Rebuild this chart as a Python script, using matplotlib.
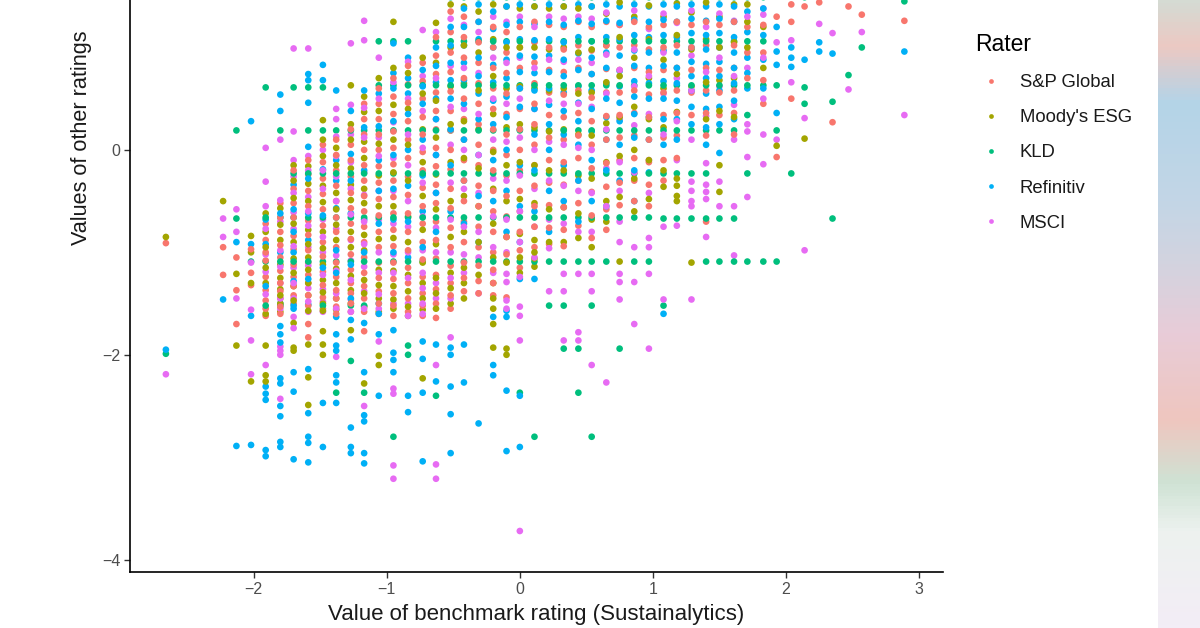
import numpy as np
import matplotlib
matplotlib.use('Agg')
import matplotlib.pyplot as plt
from matplotlib.lines import Line2D
from matplotlib.colors import LinearSegmentedColormap

plt.rcParams['font.family'] = ['Liberation Sans', 'DejaVu Sans']

# benchmark (Sustainalytics) value of each column of points
bench_cols = [-2.66, -2.23, -2.13, -2.02, -1.91, -1.80, -1.70, -1.59, -1.48, -1.38,
              -1.27, -1.17, -1.06, -0.95, -0.84, -0.73, -0.63, -0.52, -0.42, -0.31,
              -0.20, -0.10, 0.00, 0.11, 0.22, 0.33, 0.44, 0.54, 0.65, 0.75,
              0.86, 0.97, 1.08, 1.18, 1.29, 1.40, 1.50, 1.61, 1.71, 1.83,
              1.93, 2.04, 2.14, 2.25, 2.35, 2.47, 2.57, 2.89]

# other ratings per column, one list per rater
sp_global = [
    [-0.91], [-0.95, -1.22], [-1.37, -1.7, -1.05], [-1.2, -1.32, -0.97],
    [-0.72, -0.88, -1.0, -1.08, -1.24, -1.37, -1.47, -1.55, -1.62],
    [-0.52, -0.66, -0.8, -0.93, -1.05, -1.18, -1.3, -1.38, -1.45, -1.53, -1.6],
    [-0.2, -0.38, -0.52, -0.66, -0.84, -0.97, -1.12, -1.24, -1.33, -1.42, -1.5],
    [-0.1, -0.24, -0.4, -0.55, -0.69, -0.83, -0.98, -1.1, -1.22, -1.3, -1.42, -1.52, -1.7, -1.83],
    [0.05, -0.12, -0.28, -0.43, -0.58, -0.74, -0.9, -1.04, -1.19, -1.32, -1.44, -1.55],
    [0.1, -0.05, -0.2, -0.35, -0.5, -0.66, -0.8, -0.95, -1.1, -1.24, -1.37, -1.45, -1.53, -1.6],
    [0.2, 0.05, -0.1, -0.26, -0.42, -0.57, -0.72, -0.87, -1.02, -1.17, -1.3, -1.4, -1.5, -1.58],
    [0.45, 0.3, 0.15, 0.0, -0.15, -0.3, -0.45, -0.6, -0.75, -0.9, -1.05, -1.2, -1.33, -1.45, -1.58, -1.77],
    [0.6, 0.45, 0.3, 0.15, 0.0, -0.16, -0.32, -0.48, -0.64, -0.8, -0.95, -1.1, -1.25, -1.38, -1.5, -1.6],
    [0.7, 0.52, 0.35, 0.18, 0.02, -0.14, -0.3, -0.46, -0.62, -0.78, -0.94, -1.1, -1.26, -1.4, -1.52, -1.62],
    [0.82, 0.64, 0.46, 0.28, 0.1, -0.08, -0.26, -0.44, -0.62, -0.8, -0.98, -1.15, -1.3, -1.45, -1.58],
    [0.85, 0.67, 0.5, 0.32, 0.15, -0.02, -0.2, -0.37, -0.55, -0.72, -0.9, -1.07, -1.24, -1.4, -1.52, -1.62],
    [1.1, 0.92, 0.74, 0.56, 0.38, 0.2, 0.02, -0.16, -0.34, -0.52, -0.7, -0.88, -1.06, -1.22, -1.36, -1.5, -1.64],
    [1.35, 1.15, 0.95, 0.76, 0.57, 0.38, 0.19, 0.0, -0.19, -0.38, -0.57, -0.76, -0.95, -1.13, -1.3, -1.42, -1.55],
    [1.3, 1.1, 0.9, 0.7, 0.5, 0.3, 0.1, -0.1, -0.3, -0.5, -0.7, -0.9, -1.1, -1.25, -1.38],
    [1.25, 1.05, 0.85, 0.65, 0.45, 0.25, 0.05, -0.15, -0.35, -0.55, -0.75, -0.95, -1.13, -1.28, -1.4],
    [1.2, 1.0, 0.8, 0.6, 0.4, 0.2, 0.0, -0.2, -0.4, -0.6, -0.8, -1.0, -1.17, -1.3, -1.42],
    [1.15, 0.95, 0.75, 0.55, 0.35, 0.15, -0.05, -0.25, -0.45, -0.65, -0.85, -1.02, -1.44],
    [1.2, 1.0, 0.8, 0.6, 0.4, 0.2, 0.0, -0.2, -0.4, -0.6, -0.8, -0.98, -1.15],
    [1.25, 1.05, 0.85, 0.65, 0.45, 0.25, 0.05, -0.15, -0.35, -0.55, -0.75, -0.95],
    [1.22, 1.0, 0.78, 0.56, 0.34, 0.12, -0.1, -0.32, -0.54, -0.76, -0.92],
    [1.2, 0.98, 0.76, 0.54, 0.32, 0.1, -0.12, -0.34, -0.56, -0.78, -0.94],
    [1.25, 1.02, 0.8, 0.58, 0.36, 0.14, -0.08, -0.3, -0.52, -0.74],
    [1.2, 0.97, 0.74, 0.51, 0.28, 0.05, -0.18, -0.41, -0.64, -0.86],
    [1.25, 1.02, 0.79, 0.56, 0.33, 0.1, -0.13, -0.36, -0.58, -0.78],
    [1.22, 1.0, 0.78, 0.56, 0.34, 0.12, -0.1, -0.32, -0.54],
    [1.25, 1.02, 0.8, 0.58, 0.36, 0.14, -0.08, -0.3, -0.5],
    [1.2, 0.98, 0.76, 0.54, 0.32, 0.1, -0.12, -0.34, -0.55],
    [1.22, 1.0, 0.78, 0.56, 0.34, 0.12, -0.1, -0.3],
    [1.25, 1.02, 0.8, 0.58, 0.36, 0.14, -0.08],
    [1.22, 1.0, 0.78, 0.56, 0.34],
    [1.25, 1.02, 0.8, 0.58, 0.36, 0.14, -0.7],
    [1.22, 1.0, 0.78, 0.56, 0.34],
    [1.25, 1.02, 0.8, 0.58, 0.36, 0.15],
    [1.2, 0.95, 0.7],
    [1.22, 0.95, 0.68, 0.45],
    [1.3, -0.07], [1.42, 1.25, 0.5], [1.4], [1.44], [0.27], [1.4], [1.32], [1.26],
]

moodys_esg = [
    [-0.85], [-0.5], [-1.21, -1.91], [-0.84, -1.0, -1.3, -2.26],
    [-0.62, -0.8, -0.95, -1.15, -1.3, -1.6, -1.91, -2.2, -2.26],
    [-0.57, -0.73, -0.88, -1.12, -1.25, -1.36, -1.42, -1.5, -1.58],
    [-0.15, -0.3, -0.47, -0.72, -0.9, -1.06, -1.2, -1.33, -1.47, -1.69, -1.93, -1.96],
    [-0.16, -0.33, -0.5, -0.78, -0.92, -1.05, -1.17, -1.3, -1.42, -1.57, -1.9, -2.22, -2.49],
    [0.29, 0.1, -0.06, -0.35, -0.51, -0.8, -0.96, -1.12, -1.27, -1.39, -1.5, -1.57, -1.77, -1.9, -2.0],
    [0.02, -0.15, -0.42, -0.58, -0.73, -0.88, -1.16, -1.3, -1.45, -1.56],
    [0.63, 0.25, 0.1, -0.18, -0.34, -0.49, -0.8, -0.95, -1.23, -1.37, -1.5, -1.76],
    [0.52, 0.37, 0.08, -0.08, -0.38, -0.52, -0.83, -0.98, -1.27, -1.4, -1.53, -2.28],
    [0.7, 0.38, 0.06, -0.25, -0.55, -0.87, -1.17, -1.32, -1.45, -1.58, -2.01, -2.1],
    [1.25, 0.8, 0.44, 0.1, -0.22, -0.55, -0.86, -1.18, -1.33, -1.46, -1.55],
    [0.75, 0.4, 0.05, -0.3, -0.65, -0.9, -1.22, -1.38, -1.53, -1.62],
    [0.9, 0.55, 0.2, -0.12, -0.45, -0.78, -1.1, -1.3, -1.45, -1.56, -2.23],
    [1.24, 0.85, 0.48, 0.12, -0.24, -0.58, -0.92, -1.25, -1.4, -1.55],
    [1.42, 1.0, 0.62, 0.25, -0.12, -0.5, -0.85, -1.2, -1.35, -1.5],
    [1.4, 1.02, 0.65, 0.28, -0.08, -0.45, -0.8, -1.15, -1.3, -1.45],
    [1.35, 0.95, 0.58, 0.2, -0.18, -0.55, -0.9, -1.22],
    [1.42, 1.08, 0.72, 0.35, -0.02, -0.38, -0.72, -1.05, -1.3, -1.45, -1.55, -1.7, -1.93],
    [1.4, 1.0, 0.6, 0.22, -0.15, -0.5, -0.85, -1.1, -1.94, -2.0],
    [1.38, 1.0, 0.62, 0.25, -0.12, -0.48, -0.82, -1.05, -1.2],
    [1.4, 1.0, 0.6, 0.22, -0.15, -0.52, -0.88, -1.14, -1.0, -1.06],
    [1.38, 0.98, 0.58, 0.18, -0.2, -0.58, -0.9],
    [1.4, 1.0, 0.6, 0.2, -0.2, -0.56, -0.9],
    [1.38, 0.95, 0.55, 0.15, -0.25, -0.62, -0.86],
    [1.4, 0.98, 0.56, 0.14, -0.28, -0.68, -0.95],
    [1.33, 1.02, 0.66, 0.26, -0.12, -0.5, -0.7],
    [1.44, 1.1, 0.72, 0.32, -0.06, -0.46, -1.09],
    [1.3, 0.9, 0.42, 0.0, -0.28, -0.6],
    [1.41, 1.08, 0.7, 0.3, -0.1, -0.48],
    [1.3, 0.88, 0.6, 0.22, -0.2, -0.36],
    [1.43, 1.12, 0.74, 0.37, -0.28, -0.35, -0.45, -0.5],
    [1.34, 0.98, 0.62, -1.1],
    [1.44, 1.08, 0.66, 0.3],
    [1.3, 1.0, 0.68, 0.38, -0.15, -0.41],
    [1.42, 1.05, 0.7, 0.32],
    [1.42, 1.25, 1.0],
    [1.2, 0.8],
    [0.04], [], [0.11], [], [], [], [], [],
]

kld = [
    [-1.99], [], [0.19, -0.67], [-1.09],
    [0.61, -0.66, -1.09, -1.52],
    [0.19, -0.66, -1.09, -1.52],
    [0.61, -0.23, -0.66, -1.09],
    [0.61, 0.19, -0.23, -0.66, -1.09],
    [0.61, 0.19, -0.23, -0.66, -1.09, -1.52],
    [0.19, -0.23, -0.66, -1.09, -2.37],
    [0.19, -0.23, -0.66, -1.09, -1.52, -2.06],
    [0.19, -0.23, -0.66, -1.09, -1.52, -2.37],
    [1.06, 0.63, 0.19, -0.23, -0.66, -1.09],
    [1.06, 0.63, 0.19, -0.23, -0.66, -1.09, -2.8],
    [1.06, 0.63, 0.19, -0.23, -0.66, -1.09, -1.91, -2.0],
    [0.63, 0.19, -0.23, -0.66, -1.09],
    [1.06, 0.63, 0.19, -0.23, -0.66, -1.09, -2.4],
    [1.49, 1.06, 0.63, 0.19, -0.23, -0.66, -1.09],
    [1.49, 1.06, 0.63, 0.19, -0.23, -0.66, -1.09],
    [1.49, 1.06, 0.63, 0.19, -0.23, -0.66, -1.09],
    [1.49, 1.06, 0.63, 0.19, -0.23, -0.66, -1.09],
    [1.49, 1.06, 0.63, 0.19, -0.23, -0.66, -1.09],
    [1.49, 1.06, 0.63, 0.19, -0.23, -0.66, -1.09, -2.37],
    [1.49, 1.06, 0.63, 0.19, -0.23, -0.66, -1.09, -2.8],
    [1.49, 1.06, 0.63, 0.19, -0.23, -0.66, -1.09, -1.52],
    [1.49, 1.06, 0.63, 0.19, -0.23, -0.66, -1.09, -1.52, -1.94],
    [1.49, 1.06, 0.63, 0.19, -0.23, -0.66, -1.09, -1.94, -2.37],
    [1.49, 1.06, 0.63, 0.19, -0.23, -0.66, -1.09, -1.52, -2.8],
    [1.49, 1.06, 0.63, 0.19, -0.23, -0.66, -1.09],
    [1.49, 1.06, 0.63, 0.19, -0.23, -0.66, -1.94],
    [1.49, 1.06, 0.63, 0.19, -0.23, -0.66, -1.09],
    [1.49, 1.06, 0.63, 0.19, -0.23, -0.66, -1.09],
    [1.49, 1.06, 0.63, 0.19, -0.23, -0.67, -1.52],
    [1.49, 1.06, 0.63, 0.19, -0.23, -0.67],
    [1.49, 1.06, 0.63, 0.19, -0.23, -0.67],
    [1.49, 1.06, 0.63, 0.19, -0.23, -0.67, -1.09],
    [1.49, 1.06, 0.63, 0.19, -0.67, -1.09],
    [1.49, 1.06, 0.63, 0.19, -0.67, -1.09],
    [1.49, 1.06, 0.63, 0.34, -0.23, -1.09],
    [1.49, 1.06, 0.63, -1.09],
    [0.63, 0.19, -1.09], [-0.23], [1.49, 0.61, 0.45], [], [0.47, -0.67], [0.73], [1.0], [1.45],
]

refinitiv = [
    [-1.95], [-1.46], [-0.9, -2.89], [0.28, -0.92, -2.88, -1.62],
    [-0.68, -0.92, -1.33, -2.31, -2.38, -2.44, -2.93, -2.99],
    [0.54, 0.38, -0.62, -1.0, -1.5, -1.72, -1.8, -1.88, -2.23, -2.28, -2.5, -2.6, -2.85, -2.9],
    [-0.34, -0.58, -0.8, -1.0, -1.28, -1.52, -1.55, -2.17, -2.36, -3.02],
    [0.74, 0.68, 0.46, 0.03, -0.28, -0.62, -0.88, -1.26, -1.51, -2.14, -2.57, -2.8, -2.86, -3.05],
    [0.83, 0.68, -0.19, -0.64, -1.15, -2.47, -2.9],
    [0.58, -0.1, -0.3, -0.57, -0.98, -1.2, -1.63, -1.8, -1.91, -1.96, -2.2, -2.27, -2.47],
    [0.38, -0.04, -0.3, -0.62, -1.12, -1.45, -1.66, -1.85, -2.71, -2.9, -2.96],
    [0.58, 0.22, -0.2, -0.68, -1.0, -1.69, -2.17, -2.59, -2.65, -2.96, -3.06],
    [0.55, 0.23, -0.1, -0.4, -0.72, -1.5, -1.6, -1.8, -2.4],
    [1.04, 0.75, 0.6, 0.28, -0.05, -0.38, -0.68, -1.0, -1.76, -1.98, -2.05, -2.17],
    [0.9, 0.7, 0.55, 0.35, 0.0, -0.35, -0.7, -1.05, -2.4, -2.56],
    [0.78, 0.62, 0.45, 0.1, -0.25, -0.6, -0.95, -1.87, -2.04, -2.37, -3.04],
    [1.0, 0.82, 0.66, 0.5, 0.3, -0.05, -0.42, -0.8, -1.9, -2.26],
    [1.2, 1.02, 0.85, 0.68, 0.5, 0.2, -0.15, -0.6, -1.93, -2.0, -2.31, -2.58, -2.96],
    [1.38, 1.2, 1.02, 0.85, 0.68, 0.45, 0.1, -0.3, -0.72, -1.9, -2.27],
    [1.42, 1.25, 1.08, 0.9, 0.72, 0.55, 0.3, -0.05, -0.45, -0.9, -2.67],
    [1.35, 1.18, 1.0, 0.83, 0.66, 0.48, 0.25, -0.1, -0.5, -1.63, -2.1, -2.2],
    [1.4, 1.22, 1.05, 0.88, 0.7, 0.52, 0.32, 0.0, -0.4, -0.8, -1.57, -2.35, -2.94, -1.63],
    [1.42, 1.25, 1.08, 0.92, 0.76, 0.6, 0.42, 0.2, -0.15, -0.55, -0.9, -1.26, -2.4, -2.9],
    [1.4, 1.23, 1.07, 0.91, 0.75, 0.58, 0.4, 0.15, -0.2, -0.6, -1.26],
    [1.42, 1.25, 1.08, 0.92, 0.76, 0.6, 0.44, 0.25, 0.0, -0.4, -0.8],
    [1.4, 1.22, 1.05, 0.88, 0.72, 0.56, 0.38, 0.15, -0.15, -0.5],
    [1.42, 1.26, 1.1, 0.94, 0.78, 0.62, 0.46, 0.28, 0.05, -0.3, -0.7],
    [1.4, 1.23, 1.06, 0.9, 0.74, 0.58, 0.4, 0.18, -0.1, -0.5],
    [1.42, 1.26, 1.1, 0.95, 0.8, 0.65, 0.5, 0.32, 0.1, -0.2, -0.55],
    [1.4, 1.24, 1.08, 0.92, 0.77, 0.62, 0.46, 0.28, 0.05, -0.3],
    [1.42, 1.27, 1.12, 0.97, 0.82, 0.67, 0.52, 0.35, 0.12, -0.2, -0.5],
    [1.4, 1.25, 1.1, 0.95, 0.8, 0.65, 0.5, 0.32, 0.1, -0.22],
    [1.42, 1.27, 1.12, 0.97, 0.82, 0.67, 0.5, 0.3, 0.05, -1.6],
    [1.4, 1.25, 1.1, 0.95, 0.8, 0.65, 0.48, 0.3, 0.1],
    [1.42, 1.28, 1.14, 1.0, 0.86, 0.72, 0.58, 0.42, 0.25],
    [1.4, 1.26, 1.12, 0.98, 0.84, 0.7, 0.55, 0.4, 0.22, 0.05],
    [1.42, 1.28, 1.14, 1.0, 0.86, 0.72, 0.58, 0.42, 0.25, -0.03],
    [1.4, 1.25, 1.1, 0.95, 0.8, 0.65, 0.48, 0.3],
    [1.35, 1.15, 0.9, 0.75, 0.6],
    [1.38, 1.12, 0.88, 0.6],
    [0.96, 0.83, 0.36, 1.2], [1.0, 0.9, 0.81], [0.88], [1.05, 0.96], [0.94], [], [], [0.96],
]

msci = [
    [-2.19], [-0.67, -0.85], [-0.8, -1.45, -0.58], [-1.1, -1.56, -1.86, -2.19],
    [0.02, -0.31, -0.55, -0.77, -1.02, -1.19, -1.41, -2.1],
    [0.1, -0.49, -0.7, -0.98, -1.14, -1.3, -1.45, -1.55, -1.92, -1.96, -2.0, -2.43],
    [0.99, 0.18, -0.1, -0.26, -0.42, -0.61, -0.77, -0.94, -1.15, -1.3, -1.45, -1.63, -1.74],
    [0.99, -0.06, -0.2, -0.46, -0.6, -0.74, -0.95, -1.13, -1.35, -1.48, -1.58],
    [0.0, -0.2, -0.38, -0.68, -0.85, -1.0, -1.22, -1.36, -1.48, -1.58],
    [0.4, 0.3, 0.13, -0.06, -0.26, -0.5, -0.77, -1.03, -1.18, -1.4, -1.55, -2.02],
    [1.04, 0.44, 0.15, -0.12, -0.38, -0.63, -0.88, -1.08, -1.27, -1.46, -1.58],
    [1.26, 1.07, 0.41, 0.12, -0.22, -0.44, -0.7, -0.92, -1.14, -1.38, -1.55, -2.5],
    [0.9, 0.5, 0.12, -0.06, -0.4, -0.68, -1.0, -1.2, -1.41, -1.55, -1.87],
    [0.66, 0.27, -0.08, -0.4, -0.72, -1.02, -1.2, -1.5, -2.33, -2.38, -3.08, -3.21],
    [0.86, 0.5, 0.15, -0.15, -0.5, -0.75, -1.0, -1.25, -1.5, -1.62],
    [1.17, 0.72, 0.38, 0.02, -0.32, -0.65, -0.98, -1.2, -1.35, -1.5, -1.6],
    [1.15, 0.7, 0.3, -0.05, -0.42, -0.76, -1.0, -1.3, -1.45, -2.1, -3.07, -3.21],
    [1.28, 0.82, 0.42, 0.05, -0.32, -0.68, -1.0, -1.25, -1.45, -1.83],
    [1.22, 0.8, 0.4, 0.0, -0.38, -0.75, -1.02, -1.2],
    [1.15, 0.75, 0.35, -0.05, -0.42, -0.8, -1.05, -1.4],
    [1.3, 0.9, 0.5, 0.1, -0.28, -0.65, -0.95, -1.2],
    [1.25, 0.85, 0.45, 0.08, -0.3, -0.68, -1.0, -1.21, -1.29, -1.47, -1.55],
    [1.3, 0.9, 0.5, 0.12, -0.25, -0.6, -0.9, -1.24, -1.53, -1.62, -1.86, -3.72],
    [1.2, 0.8, 0.4, 0.0, -0.38, -0.75, -1.05],
    [1.3, 0.88, 0.48, 0.08, -0.3, -0.68, -0.96, -1.38],
    [1.28, 0.86, 0.45, 0.05, -0.35, -0.72, -1.21, -1.38, -1.86],
    [1.3, 0.88, 0.45, 0.02, -0.4, -0.8, -1.21, -1.78, -1.86],
    [1.28, 0.85, 0.42, 0.0, -0.42, -0.8, -1.21, -1.38, -2.1],
    [1.34, 0.93, 0.55, 0.2, -0.18, -0.55, -2.27],
    [1.22, 0.78, 0.3, -0.12, -0.4, -0.7, -0.9, -1.21, -1.29, -1.46],
    [1.36, 0.98, 0.62, 0.24, -0.22, -0.95, -1.29, -1.7],
    [1.18, 0.72, 0.35, -0.1, -0.42, -0.86, -0.95, -1.21, -1.94],
    [1.33, 0.95, 0.55, 0.15, -0.75, -1.46],
    [1.24, 0.7, 0.28, -0.1, -0.74],
    [1.36, 0.92, 0.58, 0.1, -0.31, -0.4, -0.5, -0.55, -1.46],
    [1.2, 0.76, 0.33, -0.13, -0.34, -0.41, -0.48, -0.85],
    [1.33, 0.9, 0.62, -0.31, -0.55],
    [1.26, 0.72, 0.44, 0.1, -0.55, -1.03],
    [1.3, 0.8, 0.25, 0.18, -0.07, -0.46],
    [1.38, 1.32, 0.9, 0.5, 0.15, -0.14],
    [0.1, 1.05], [1.07, 0.66], [0.31, -0.98], [1.23], [1.14], [0.59], [1.15], [0.34],
]

raters = ['S&P Global', "Moody's ESG", 'KLD', 'Refinitiv', 'MSCI']
rater_values = [sp_global, moodys_esg, kld, refinitiv, msci]
rater_colors = ['#F8766D', '#A3A500', '#00BF7D', '#00B0F6', '#E76BF3']

# flatten the column lists into points
xs, ys, cs = [], [], []
for vals, col in zip(rater_values, rater_colors):
    for bx, col_vals in zip(bench_cols, vals):
        for v in col_vals:
            xs.append(bx)
            ys.append(v)
            cs.append(col)
xs = np.array(xs)
ys = np.array(ys)
cs = np.array(cs)
# interleave drawing order so no rater sits on top of the others
order = np.argsort((np.arange(len(xs)) * 0.6180339887) % 1.0)

fig = plt.figure(figsize=(12, 6.28), dpi=100)
ax = fig.add_axes([0.1083, 0.0892, 0.6775, 0.9108])
ax.scatter(xs[order], ys[order], c=cs[order], s=23, linewidths=0, zorder=2)

ax.set_xlim(-2.93, 3.18)
ax.set_ylim(-4.12, 1.463)
ax.set_xticks([-2, -1, 0, 1, 2, 3])
ax.set_yticks([-4, -2, 0])
ax.set_xticklabels(['\u22122', '\u22121', '0', '1', '2', '3'])
ax.set_yticklabels(['\u22124', '\u22122', '0'])
for side in ['top', 'right']:
    ax.spines[side].set_visible(False)
for side in ['left', 'bottom']:
    ax.spines[side].set_linewidth(1.2)
    ax.spines[side].set_color('black')
ax.tick_params(length=4, width=1.0, color='#333333', labelcolor='#4D4D4D',
               labelsize=11.5, pad=3)

ax.set_xlabel('Value of benchmark rating (Sustainalytics)', fontsize=16,
              color='#1a1a1a', labelpad=5)
ax.set_ylabel('Values of other ratings', fontsize=15.6, color='#1a1a1a')
ax.yaxis.set_label_coords(-0.047, 0.76)

handles = [Line2D([], [], marker='o', linestyle='', markersize=3.4,
                  markerfacecolor=c, markeredgewidth=0) for c in rater_colors]
leg = fig.legend(handles, raters, title='Rater', loc='upper left',
                 bbox_to_anchor=(0.805, 0.962), frameon=False, fontsize=13.3,
                 title_fontsize=16.5, labelspacing=0.98, handletextpad=0.7,
                 handlelength=1.7, borderpad=0)
leg._legend_box.align = 'left'
for t in leg.get_texts():
    t.set_color('#1a1a1a')

# blurred colour strip at the right edge of the picture
strip = fig.add_axes([0.965, 0.0, 0.035, 1.0])
strip_cmap = LinearSegmentedColormap.from_list('strip', [
    (0.0, '#d5dbd3'), (0.07, '#ecc9c3'), (0.16, '#b4d4e8'), (0.32, '#c3d6e6'),
    (0.42, '#d3d3df'), (0.53, '#e8ccd8'), (0.67, '#efc6bf'), (0.77, '#cfe2d4'),
    (0.85, '#edf2ef'), (1.0, '#f3edf6')])
strip.imshow(np.linspace(0, 1, 200).reshape(-1, 1), cmap=strip_cmap,
             aspect='auto', extent=[0, 1, 1, 0])
strip.set_axis_off()

fig.savefig('out.png', dpi=100)
